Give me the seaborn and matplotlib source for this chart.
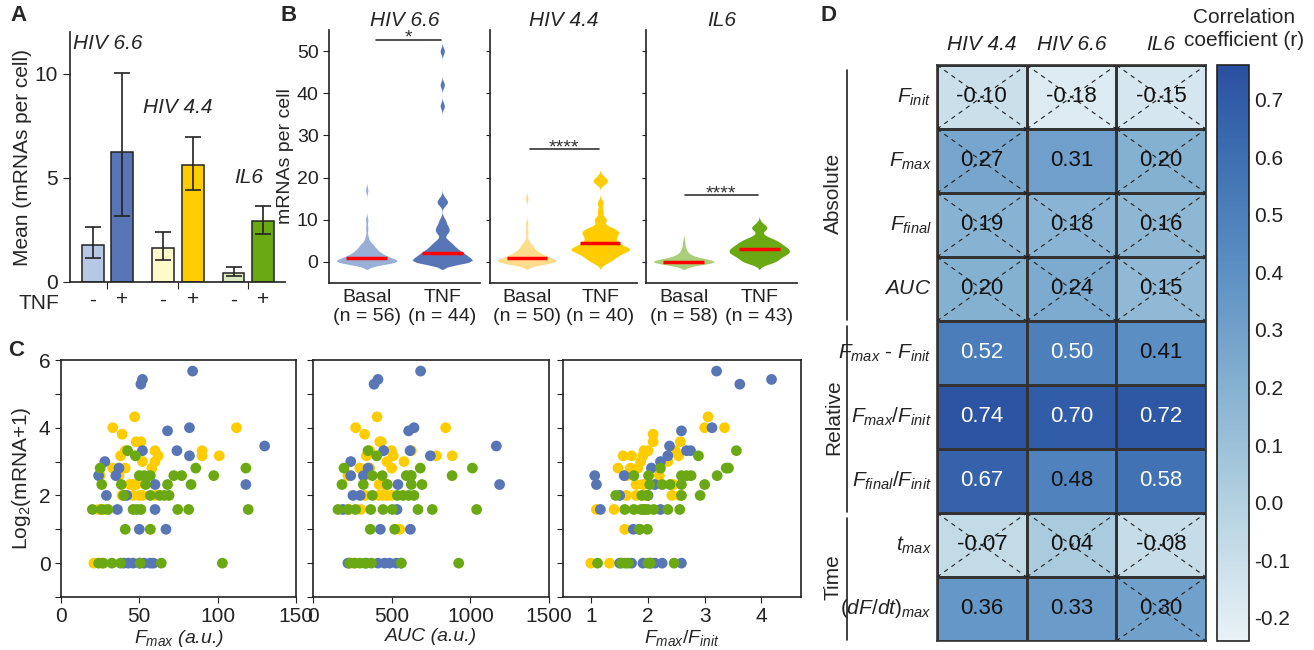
import numpy as np
import pandas as pd
import matplotlib
matplotlib.use('Agg')
import matplotlib.pyplot as plt
import matplotlib.transforms as mtransforms
import seaborn as sns
from matplotlib.colors import LinearSegmentedColormap

# ---------------- data ----------------
genes = ['HIV 6.6', 'HIV 4.4', 'IL6']
c_basal = ['#b7c8e6', '#fffacc', '#d8eac2']
c_tnf = ['#5875b5', '#ffcc00', '#6aa814']
c_basal_violin = ['#9aafd6', '#ffdc8c', '#a9cf7a']

# A: mean mRNAs per cell and error bar bounds
mean_basal = [1.78, 1.65, 0.43]
mean_tnf = [6.24, 5.63, 2.95]
lo_basal = [1.14, 1.06, 0.27]
hi_basal = [2.62, 2.40, 0.70]
lo_tnf = [3.17, 4.41, 2.30]
hi_tnf = [10.03, 6.98, 3.63]

# B: mRNA counts per cell (value levels and number of cells at each level)
h66_basal_vals = [0, 1, 2, 3, 4, 5, 6, 8, 10, 17]
h66_basal_n = [22, 12, 8, 5, 4, 1, 1, 1, 1, 1]
h66_tnf_vals = [0, 1, 2, 3, 4, 5, 7, 8, 9, 10, 14, 15, 37, 42, 50]
h66_tnf_n = [10, 7, 6, 4, 3, 2, 2, 2, 1, 1, 2, 1, 1, 1, 1]
h44_basal_vals = [0, 1, 2, 3, 4, 5, 7, 9, 15]
h44_basal_n = [20, 12, 7, 4, 3, 1, 1, 1, 1]
h44_tnf_vals = [0, 1, 2, 3, 4, 5, 6, 7, 8, 10, 12, 14, 19, 20]
h44_tnf_n = [2, 3, 4, 7, 4, 3, 3, 4, 3, 2, 1, 1, 2, 1]
il6_basal_vals = [0, 1, 2, 3, 4, 5]
il6_basal_n = [41, 9, 4, 2, 1, 1]
il6_tnf_vals = [0, 1, 2, 3, 4, 5, 6, 8, 9]
il6_tnf_n = [5, 5, 8, 8, 6, 5, 2, 3, 1]
sig_labels = ['*', '****', '****']

# C: per-cell mRNA count and reporter features
h66_mrna = [50, 42, 38, 15, 14, 10, 9, 9, 8, 7, 6, 5, 5, 4, 4, 3, 3, 2, 2, 1, 1, 0, 0, 0, 0, 0, 0, 0]
h66_fmax = [84, 52, 51, 82, 68, 130, 52, 74, 82, 28, 37, 24, 35, 60, 118, 29, 42, 36, 60, 50, 67,
            40, 43, 46, 50, 53, 57, 59]
h66_auc = [684, 413, 388, 642, 608, 1165, 449, 617, 746, 240, 350, 240, 320, 540, 1186, 254, 300,
           190, 534, 428, 619, 222, 339, 413, 455, 487, 530, 560]
h66_ratio = [3.21, 4.18, 3.62, 3.13, 2.59, 2.38, 2.68, 2.75, 2.35, 2.22, 2.06, 1.06, 1.58, 1.09,
             2.12, 1.5, 2.0, 1.16, 2.22, 1.74, 1.85, 1.5, 1.71, 1.91, 2.05, 2.12, 2.25, 2.59]

h44_mrna = [19, 15, 15, 13, 11, 11, 9, 9, 9, 8, 8, 8, 8, 7, 7, 6, 6, 6, 5, 5, 4, 4, 4, 3, 3, 3, 3, 3,
            2, 2, 1, 0, 0]
h44_fmax = [47, 33, 112, 39, 48, 51, 41, 60, 90, 38, 62, 90, 101, 52, 60, 33, 41, 58, 25, 37, 44, 46,
            48, 39, 46, 50, 52, 60, 24, 28, 57, 21, 26]
h44_auc = [407, 271, 843, 328, 424, 434, 360, 498, 625, 339, 510, 784, 885, 470, 578, 297, 360, 500,
           222, 330, 420, 450, 470, 330, 420, 445, 470, 500, 303, 230, 551, 230, 260]
h44_ratio = [3.06, 3.0, 3.35, 2.09, 2.09, 2.57, 1.93, 2.48, 2.0, 1.56, 1.71, 1.91, 2.54, 1.87, 2.35,
             1.47, 1.69, 1.82, 1.62, 2.2, 1.79, 1.91, 2.45, 1.62, 1.79, 1.94, 2.42, 2.56, 1.09, 1.4,
             1.59, 0.99, 1.32]

il6_mrna = [9, 8, 6, 6, 6, 5, 5, 5, 5, 5, 5, 4, 4, 4, 4, 4, 3, 3, 3, 3, 3, 2, 2, 2, 2, 2, 2, 2, 2, 2,
            1, 1, 0, 0, 0, 0, 0, 0, 0]
il6_fmax = [42.5, 47.5, 25, 86, 118, 50, 53, 57, 72, 77, 97.5, 26, 38.5, 54, 68, 83, 40, 57, 63, 66,
            69, 20, 26, 30, 46, 48.5, 51, 74.5, 81.5, 119.5, 41, 57, 24, 27, 32.5, 38, 50.6, 64, 103]
il6_auc = [350, 405, 197, 682, 1013, 377, 440, 593, 625, 884, 620, 184, 320, 472, 625, 693, 377, 536,
           572, 608, 642, 159, 222, 271, 367, 445, 504, 667, 758, 1040, 364, 519, 233, 265, 297, 371,
           561, 330, 926]
il6_ratio = [3.56, 2.89, 2.22, 3.38, 3.42, 1.75, 2.01, 2.59, 2.68, 2.76, 3.22, 2.03, 2.25, 2.39, 2.59,
             3.0, 1.43, 1.89, 1.99, 2.59, 2.92, 1.59, 1.75, 1.88, 2.0, 1.92, 2.35, 2.56, 2.1, 1.95,
             1.85, 1.99, 1.11, 1.53, 1.6, 2.0, 2.46, 1.65, 2.04]

# D: correlation coefficients
d_cols = ['HIV 4.4', 'HIV 6.6', 'IL6']
d_rows = [r'$F_{init}$', r'$F_{max}$', r'$F_{final}$', r'$AUC$', r'$F_{max}$ - $F_{init}$',
          r'$F_{max}/F_{init}$', r'$F_{final}/F_{init}$', r'$t_{max}$', r'$(dF/dt)_{max}$']
corr_r = [[-0.10, -0.18, -0.15],
          [0.27, 0.31, 0.20],
          [0.19, 0.18, 0.16],
          [0.20, 0.24, 0.15],
          [0.52, 0.50, 0.41],
          [0.74, 0.70, 0.72],
          [0.67, 0.48, 0.58],
          [-0.07, 0.04, -0.08],
          [0.36, 0.33, 0.30]]
not_sig = [[1, 1, 1], [1, 0, 1], [1, 1, 1], [1, 1, 1], [0, 0, 0],
           [0, 0, 0], [0, 0, 0], [1, 1, 1], [0, 0, 1]]
row_groups = [('Absolute', 0, 4), ('Relative', 4, 7), ('Time', 7, 9)]

# ---------------- style ----------------
sns.set_style('ticks')
plt.rcParams['font.family'] = ['Liberation Sans', 'DejaVu Sans']
plt.rcParams['mathtext.fontset'] = 'custom'
plt.rcParams['mathtext.it'] = 'Liberation Sans:italic'
plt.rcParams['mathtext.rm'] = 'Liberation Sans'
plt.rcParams['axes.unicode_minus'] = False
plt.rcParams['axes.edgecolor'] = '#222222'
plt.rcParams['axes.linewidth'] = 1.2
plt.rcParams['xtick.color'] = '#222222'
plt.rcParams['ytick.color'] = '#222222'
FS = 14

W, H = 1314, 650
fig = plt.figure(figsize=(W / 100, H / 100), dpi=100)


def box(x0, y0, x1, y1):
    return [x0 / W, 1 - y1 / H, (x1 - x0) / W, (y1 - y0) / H]


# ---------------- A ----------------
ax = fig.add_axes(box(70, 32, 285, 282))
df_a = pd.DataFrame({'gene': genes * 2, 'cond': ['Basal'] * 3 + ['TNF'] * 3,
                     'mean': mean_basal + mean_tnf})
sns.barplot(data=df_a, x='gene', y='mean', hue='cond', width=0.84, gap=0.26,
            errorbar=None, legend=False, ax=ax)
bar_groups = list(ax.containers)[:2]
centers, signs = [], []
for k, cont in enumerate(bar_groups):
    cols = c_basal if k == 0 else c_tnf
    los = lo_basal if k == 0 else lo_tnf
    his = hi_basal if k == 0 else hi_tnf
    for bar, col, lo, hi in zip(cont, cols, los, his):
        bar.set_facecolor(col)
        bar.set_edgecolor('#222222')
        bar.set_linewidth(1.1)
        xc = bar.get_x() + bar.get_width() / 2
        h = bar.get_height()
        ax.errorbar(xc, h, yerr=[[h - lo], [hi - h]], color='#222222', capsize=6,
                    elinewidth=1.2, capthick=1.2)
        centers.append(xc)
        signs.append('-' if k == 0 else '+')
for i, g in enumerate(genes):
    ax.text(i, max(hi_basal[i], hi_tnf[i]) + 1.4, g, style='italic', fontsize=15,
            ha='center', va='center')
ax.set_xlim(-0.53, 2.52)
ax.set_ylim(0, 12)
ax.set_yticks([0, 5, 10])
ax.set_xticks(range(3))
ax.set_xticklabels([])
ax.set_xticks(centers, minor=True)
ax.set_xticklabels(signs, minor=True, fontsize=15)
ax.tick_params(axis='x', which='minor', length=0, pad=6)
ax.tick_params(axis='both', which='major', labelsize=15, length=5)
ax.set_xlabel('')
ax.set_ylabel('Mean (mRNAs per cell)', fontsize=15, labelpad=2)
ax.text(-0.24, -0.085, 'TNF', transform=ax.transAxes, fontsize=15, ha='left', va='center')
sns.despine(ax=ax)

# ---------------- B ----------------
b_sets = [(h66_basal_vals, h66_basal_n, h66_tnf_vals, h66_tnf_n),
          (h44_basal_vals, h44_basal_n, h44_tnf_vals, h44_tnf_n),
          (il6_basal_vals, il6_basal_n, il6_tnf_vals, il6_tnf_n)]
b_boxes = [(329, 30, 480, 283), (490, 30, 637, 283), (646, 30, 797, 283)]
sig_y = [52.6, 26.7, 15.8]
sig_x0 = [0.12, 0.04, 0.01]


def kde_bw(kde):
    # kernel width below one mRNA, whatever the spread of the group
    return 0.7 / kde.dataset.std(ddof=1)


for i, (bv, bn, tv, tn) in enumerate(b_sets):
    ax = fig.add_axes(box(*b_boxes[i]))
    basal = np.repeat(bv, bn)
    tnf = np.repeat(tv, tn)
    lab_b = f'Basal\n(n = {len(basal)})'
    lab_t = f'TNF\n(n = {len(tnf)})'
    df_b = pd.DataFrame({'cond': [lab_b] * len(basal) + [lab_t] * len(tnf),
                         'value': np.concatenate([basal, tnf])})
    sns.violinplot(data=df_b, x='cond', y='value', hue='cond',
                   palette=[c_basal_violin[i], c_tnf[i]],
                   inner=None, linewidth=0, bw_method=kde_bw, cut=2.5, density_norm='width',
                   width=0.8, saturation=1, legend=False, ax=ax)
    for j, d in enumerate([basal, tnf]):
        ax.hlines(np.median(d), j - 0.27, j + 0.27, color='red', lw=2.5, zorder=5)
    ax.plot([sig_x0[i], 0.98], [sig_y[i], sig_y[i]], color='#333333', lw=1.2)
    ax.text((sig_x0[i] + 0.98) / 2, sig_y[i] + 0.4, sig_labels[i], ha='center', va='center',
            fontsize=FS, color='#333333')
    ax.set_xlim(-0.5, 1.5)
    ax.set_ylim(-5, 55)
    ax.set_yticks(range(0, 51, 10))
    ax.set_title(genes[i], style='italic', fontsize=15, pad=3)
    ax.set_xlabel('')
    ax.tick_params(axis='x', labelsize=FS, length=0, pad=4)
    if i == 0:
        ax.set_ylabel('mRNAs per cell', fontsize=FS, labelpad=2)
        ax.tick_params(axis='y', labelsize=FS, length=4)
    else:
        ax.set_ylabel('')
        ax.set_yticklabels([])
        ax.tick_params(axis='y', length=3)
    sns.despine(ax=ax)

# ---------------- C ----------------
rows = []
for g, m, f, a, r in [('HIV 4.4', h44_mrna, h44_fmax, h44_auc, h44_ratio),
                      ('HIV 6.6', h66_mrna, h66_fmax, h66_auc, h66_ratio),
                      ('IL6', il6_mrna, il6_fmax, il6_auc, il6_ratio)]:
    rows.append(pd.DataFrame({'gene': g, 'mrna': m, 'fmax': f, 'auc': a, 'ratio': r}))
df_c = pd.concat(rows, ignore_index=True)
df_c['log_mrna'] = np.log2(df_c['mrna'] + 1)
pal = {'HIV 6.6': c_tnf[0], 'HIV 4.4': c_tnf[1], 'IL6': c_tnf[2]}

c_specs = [('fmax', (61, 360, 296, 597), (0, 150), [0, 50, 100, 150],
            r'$F_{max}$' + ' (a.u.)'),
           ('auc', (313, 360, 549, 597), (0, 1500), [0, 500, 1000, 1500], 'AUC (a.u.)'),
           ('ratio', (563, 360, 801, 597), (0.5, 4.7), [1, 2, 3, 4], r'$F_{max}/F_{init}$')]
for k, (col, bx, xl, xt, xlab) in enumerate(c_specs):
    ax = fig.add_axes(box(*bx))
    sns.scatterplot(data=df_c, x=col, y='log_mrna', hue='gene', palette=pal, s=60,
                    linewidth=0, alpha=1, legend=False, ax=ax, zorder=3)
    ax.set_xlim(*xl)
    ax.set_ylim(-1, 6)
    ax.set_xticks(xt)
    ax.set_yticks(range(-1, 7))
    ax.set_xlabel(xlab, style='italic', fontsize=FS, labelpad=1)
    ax.tick_params(axis='both', labelsize=15, length=4)
    if k == 0:
        ax.set_yticklabels(['', '0', '', '2', '', '4', '', '6'])
        ax.set_ylabel(r'Log$_2$(mRNA+1)', fontsize=15)
    else:
        ax.set_yticklabels([])
        ax.set_ylabel('')

# ---------------- D ----------------
axd = fig.add_axes(box(937, 65, 1206, 641))
cax = fig.add_axes(box(1217, 65, 1249, 641))
vmin, vmax = -0.24, 0.76
nodes = [(-0.24, '#e9f2f6'), (0.0, '#b3d1e0'), (0.2, '#85b1d1'), (0.4, '#5d90c4'),
         (0.6, '#3e70b2'), (0.76, '#2a50a0')]
cmap = LinearSegmentedColormap.from_list(
    'corr', [((v - vmin) / (vmax - vmin), c) for v, c in nodes])
corr = np.array(corr_r)
sns.heatmap(corr, ax=axd, cbar_ax=cax, cmap=cmap, vmin=vmin, vmax=vmax, annot=True,
            fmt='.2f', annot_kws={'size': 16}, linewidths=1, linecolor='#333333',
            xticklabels=d_cols, yticklabels=d_rows)
for t in axd.texts:
    t.set_color('white' if float(t.get_text()) > 0.49 else '#111111')
mask = np.array(not_sig)
for i in range(mask.shape[0]):
    for j in range(mask.shape[1]):
        if mask[i, j]:
            axd.plot([j, j + 1], [i, i + 1], color='#222222', lw=0.8, ls=(0, (4, 4)))
            axd.plot([j, j + 1], [i + 1, i], color='#222222', lw=0.8, ls=(0, (4, 4)))
axd.xaxis.tick_top()
axd.tick_params(axis='x', length=0, labelsize=15, pad=8)
for lbl in axd.get_xticklabels():
    lbl.set_style('italic')
axd.tick_params(axis='y', length=0, labelsize=15, pad=4, rotation=0)
for spine in axd.spines.values():
    spine.set_visible(True)
    spine.set_color('#333333')
trans = mtransforms.blended_transform_factory(axd.transAxes, axd.transData)
for name, r0, r1 in row_groups:
    axd.plot([-0.335, -0.335], [r0 + 0.08, r1 - 0.02], color='#222222', lw=1.2,
             transform=trans, clip_on=False)
    axd.text(-0.385, (r0 + r1) / 2, name, rotation=90, ha='center', va='center',
             fontsize=15, transform=trans)
cbar = axd.collections[0].colorbar
cbar.set_ticks(np.round(np.arange(-0.2, 0.71, 0.1), 1))
cax.tick_params(direction='in', length=6, labelsize=15, right=True, color='#333333')
cbar.outline.set_edgecolor('#222222')
cbar.outline.set_linewidth(1.2)
fig.text(1244 / W, 1 - 8 / H, 'Correlation\ncoefficient (r)', ha='center', va='top',
         fontsize=15, multialignment='center', linespacing=1.3)

# panel letters
for letter, x, y in [('A', 10, 5), ('B', 280, 5), ('C', 8, 340), ('D', 820, 5)]:
    fig.text(x / W, 1 - y / H, letter, fontsize=16, fontweight='bold', va='top', ha='left')

fig.savefig('out.png', dpi=100)
